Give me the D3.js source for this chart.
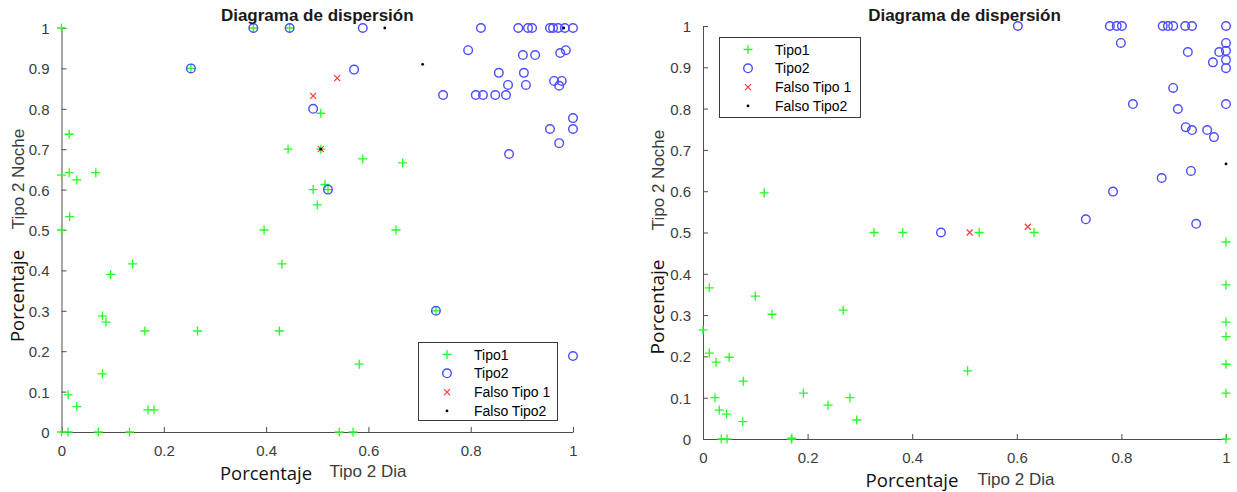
<!DOCTYPE html>
<html>
<head>
<meta charset="utf-8">
<script src="https://cdn.jsdelivr.net/npm/d3@7"></script>
<style>
  html, body { margin: 0; padding: 0; background: #fff; }
  svg { display: block; }
</style>
</head>
<body>
<svg id="chart" width="1237" height="492"></svg>
<script>
// ---- Data: [Tipo 2 Dia, Tipo 2 Noche] pairs for each series, two panels ----
const tipo1A = [
  [0, 1.0], [0.015, 0.737], [0, 0.636], [0.015, 0.642], [0.03, 0.624], [0.067, 0.642],
  [0.016, 0.533], [0, 0.5], [0.253, 0.9], [0.375, 1.0], [0.446, 1.0], [0.443, 0.70],
  [0.396, 0.5], [0.492, 0.6], [0.5, 0.562], [0.507, 0.789], [0.507, 0.70], [0.589, 0.676],
  [0.667, 0.666], [0.515, 0.613], [0.521, 0.6], [0.654, 0.5], [0.431, 0.416], [0.139, 0.416],
  [0.096, 0.39], [0.08, 0.287], [0.087, 0.272], [0.163, 0.25], [0.266, 0.25], [0.426, 0.25],
  [0.08, 0.144], [0.013, 0.092], [0.03, 0.063], [0.169, 0.055], [0.181, 0.055], [0, 0],
  [0.013, 0], [0.072, 0], [0.133, 0], [0.732, 0.3], [0.582, 0.168], [0.543, 0], [0.57, 0]
];
const tipo2A = [
  [0.253, 0.9], [0.375, 1.0], [0.446, 1.0], [0.589, 1.0], [0.572, 0.897], [0.492, 0.8],
  [0.521, 0.6], [0.732, 0.3], [1.0, 0.188],
  [0.82, 1.0], [0.893, 1.0], [0.912, 1.0], [0.92, 1.0], [0.955, 1.0], [0.961, 1.0],
  [0.971, 1.0], [0.984, 1.0], [1.0, 1.0],
  [0.795, 0.945], [0.902, 0.933], [0.926, 0.933], [0.975, 0.938], [0.986, 0.945],
  [0.855, 0.889], [0.904, 0.889], [0.873, 0.859], [0.908, 0.859], [0.963, 0.869],
  [0.978, 0.869], [0.973, 0.857], [0.81, 0.834], [0.824, 0.834], [0.848, 0.834],
  [0.869, 0.834], [0.746, 0.834], [1.0, 0.777], [0.955, 0.75], [1.0, 0.75],
  [0.973, 0.715], [0.875, 0.688]
];
const falso1A = [[0.539, 0.876], [0.492, 0.832], [0.507, 0.70]];
const falso2A = [[0.632, 1.0], [0.706, 0.91], [0.982, 1.0], [0.507, 0.70]];

const tipo1B = [
  [0.117, 0.596], [0.327, 0.5], [0.382, 0.5], [0.012, 0.366], [0, 0.264], [0.012, 0.208],
  [0.025, 0.186], [0.05, 0.198], [0.1, 0.346], [0.132, 0.302], [0.268, 0.312], [0.077, 0.14],
  [0.023, 0.1], [0.031, 0.07], [0.045, 0.06], [0.076, 0.042], [0.192, 0.111], [0.239, 0.082],
  [0.281, 0.1], [0.294, 0.046], [0.035, 0], [0.046, 0], [0.169, 0], [0.17, 0.002],
  [0.528, 0.5], [0.633, 0.5], [0.506, 0.165],
  [1.0, 0.477], [1.0, 0.373], [1.0, 0.283], [1.0, 0.248], [1.0, 0.181], [1.0, 0.111], [1.0, 0]
];
const tipo2B = [
  [0.602, 1.0], [0.778, 1.0], [0.791, 1.0], [0.801, 1.0], [0.879, 1.0], [0.889, 1.0],
  [0.899, 1.0], [0.922, 1.0], [0.935, 1.0], [1.0, 1.0],
  [0.799, 0.959], [1.0, 0.959], [0.927, 0.937], [0.987, 0.937], [1.0, 0.94], [1.0, 0.918],
  [0.975, 0.912], [1.0, 0.898], [0.899, 0.85], [0.822, 0.811], [0.908, 0.799], [1.0, 0.811],
  [0.923, 0.755], [0.935, 0.748], [0.964, 0.748], [0.977, 0.731], [0.933, 0.649],
  [0.877, 0.632], [0.784, 0.599], [0.732, 0.532], [0.943, 0.521], [0.455, 0.5]
];
const falso1B = [[0.51, 0.5], [0.621, 0.514]];
const falso2B = [[1.0, 0.666]];

const xTicks = [0, 0.2, 0.4, 0.6, 0.8, 1];
const yTicks = [0, 0.1, 0.2, 0.3, 0.4, 0.5, 0.6, 0.7, 0.8, 0.9, 1];
const seriesNames = ["Tipo1", "Tipo2", "Falso Tipo 1", "Falso Tipo2"];
const chartTitle = "Diagrama de dispersión";
const xLabel = "Tipo 2 Dia";
const yLabel = "Tipo 2 Noche";
const unitLabel = "Porcentaje";

// ---- Styling ----
const GREEN = "#22ff22";
const BLUE = "#4b4bff";
const RED = "#ff3a3a";
const AXIS = "#4d4d4d";
const TICKTXT = "#3c3c3c";
const SANS = "'Liberation Sans', Arial, Helvetica, sans-serif";
const HAND = "'Open Sans', 'Noto Sans', sans-serif";

const svg = d3.select("#chart");

function drawMarker(g, kind, x, y) {
  if (kind === 0) {
    g.append("path").attr("d", `M${x - 4.5},${y}H${x + 4.5}M${x},${y - 4.5}V${y + 4.5}`)
      .attr("stroke", GREEN).attr("stroke-width", 1.3).attr("fill", "none");
  } else if (kind === 1) {
    g.append("circle").attr("cx", x).attr("cy", y).attr("r", 4.3)
      .attr("fill", "none").attr("stroke", BLUE).attr("stroke-width", 1.4);
  } else if (kind === 2) {
    g.append("path").attr("d", `M${x - 3},${y - 3}L${x + 3},${y + 3}M${x - 3},${y + 3}L${x + 3},${y - 3}`)
      .attr("stroke", RED).attr("stroke-width", 1.2).attr("fill", "none");
  } else {
    g.append("circle").attr("cx", x).attr("cy", y).attr("r", 1.4).attr("fill", "#000");
  }
}

function panel(cfg) {
  const x = d3.scaleLinear().domain([0, 1]).range([cfg.x0, cfg.x1]);
  const y = d3.scaleLinear().domain([0, 1]).range([cfg.y0, cfg.y1]);
  const g = svg.append("g");

  // Axes with inward ticks (left and bottom only)
  const xAxis = d3.axisBottom(x).tickValues(xTicks).tickSizeInner(-5).tickSizeOuter(0)
    .tickPadding(13).tickFormat(d3.format("~g"));
  const yAxis = d3.axisLeft(y).tickValues(yTicks).tickSizeInner(-5).tickSizeOuter(0)
    .tickPadding(12).tickFormat(d3.format("~g"));

  const gx = g.append("g").attr("transform", `translate(0,${cfg.y0})`).call(xAxis);
  const gy = g.append("g").attr("transform", `translate(${cfg.x0},0)`).call(yAxis);
  [gx, gy].forEach(a => {
    a.select(".domain").attr("stroke", AXIS).attr("stroke-width", 1);
    a.selectAll(".tick line").attr("stroke", AXIS);
    a.selectAll(".tick text").attr("fill", TICKTXT).style("font-family", SANS).style("font-size", "15px");
  });
  gy.selectAll(".tick text").attr("dy", "0.36em");

  // Points
  const pts = g.append("g");
  [cfg.s1, cfg.s2, cfg.s3, cfg.s4].forEach((arr, k) => {
    arr.forEach(d => drawMarker(pts, k, x(d[0]), y(d[1])));
  });

  // Title
  g.append("text").attr("x", (cfg.x0 + cfg.x1) / 2).attr("y", 21).attr("text-anchor", "middle")
    .style("font-family", SANS).style("font-weight", "bold").style("font-size", "17px")
    .attr("fill", "#1a1a1a").text(chartTitle);

  // Axis labels
  g.append("text").attr("transform", `translate(${cfg.ylabX},${cfg.ylabY}) rotate(-90)`)
    .attr("text-anchor", "middle").style("font-family", SANS).style("font-size", "17px")
    .attr("fill", TICKTXT).text(yLabel);
  g.append("text").attr("x", cfg.xlabX).attr("y", cfg.xlabY).attr("text-anchor", "middle")
    .style("font-family", SANS).style("font-size", "17px").attr("fill", TICKTXT).text(xLabel);

  // Unit annotations
  g.append("text").attr("transform", `translate(${cfg.uyX},${cfg.uyY}) rotate(-90)`)
    .attr("text-anchor", "middle").style("font-family", HAND).style("font-weight", "400")
    .style("font-size", "19px")
    .attr("textLength", cfg.uyLen).attr("lengthAdjust", "spacingAndGlyphs")
    .attr("fill", "#111").text(unitLabel);
  g.append("text").attr("x", cfg.uxX).attr("y", cfg.uxY).attr("text-anchor", "middle")
    .style("font-family", HAND).style("font-weight", "400").style("font-size", "19px")
    .attr("textLength", cfg.uxLen).attr("lengthAdjust", "spacingAndGlyphs")
    .attr("fill", "#111").text(unitLabel);

  // Legend
  const L = cfg.leg;
  const lg = g.append("g");
  lg.append("rect").attr("x", L.x + 0.5).attr("y", L.y + 0.5).attr("width", L.w).attr("height", L.h)
    .attr("fill", "#fff").attr("stroke", "#3a3a3a").attr("stroke-width", 1);
  seriesNames.forEach((name, i) => {
    const cy = L.y + 12.5 + i * 18.8;
    drawMarker(lg, i, L.x + 29, cy);
    lg.append("text").attr("x", L.x + 56).attr("y", cy + 5)
      .style("font-family", SANS).style("font-size", "14px").attr("fill", "#000").text(name);
  });
}

panel({
  x0: 61.5, x1: 573, y0: 432, y1: 28,
  s1: tipo1A, s2: tipo2A, s3: falso1A, s4: falso2A,
  ylabX: 24, ylabY: 179, xlabX: 368, xlabY: 477,
  uyX: 24, uyY: 296, uyLen: 92, uxX: 266, uxY: 480, uxLen: 92,
  leg: { x: 418, y: 342, w: 139, h: 78 }
});

panel({
  x0: 703, x1: 1226, y0: 439, y1: 26,
  s1: tipo1B, s2: tipo2B, s3: falso1B, s4: falso2B,
  ylabX: 664, ylabY: 180, xlabX: 1016, xlabY: 485,
  uyX: 664, uyY: 307, uyLen: 95, uxX: 912, uxY: 487, uxLen: 93,
  leg: { x: 719, y: 37, w: 141, h: 80 }
});
</script>
</body>
</html>
